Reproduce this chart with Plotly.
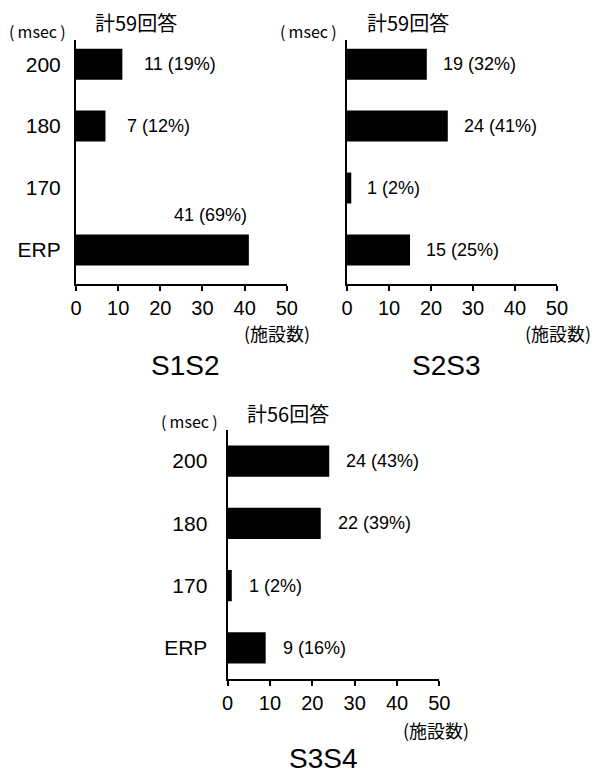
import plotly.graph_objects as go

# Response counts per stimulus interval, one list per coupling pair
categories = ["200", "180", "170", "ERP"]
panel_names = ["S1S2", "S2S3", "S3S4"]
counts_s1s2 = [11, 7, 0, 41]
counts_s2s3 = [19, 24, 1, 15]
counts_s3s4 = [24, 22, 1, 9]
x_ticks = [0, 10, 20, 30, 40, 50]

LATIN = "Liberation Sans, Arial, sans-serif"
CJK = "Noto Sans CJK JP, sans-serif"
W, H = 600, 772


def px_x(v):
    return v / W


def px_y(v):
    return 1 - v / H


# panel geometry (pixels): left, right, top, bottom of plot area
panels = [
    dict(name=panel_names[0], counts=counts_s1s2, box=(72, 289, 40, 284),
         yrange=[3.55, -0.39], show_cats=True, standoff=9, gap=20,
         title_y=355, unit_xy=(243, 333)),
    dict(name=panel_names[1], counts=counts_s2s3, box=(351, 567, 40, 284),
         yrange=[3.55, -0.39], show_cats=False, standoff=9, gap=14,
         title_y=355, unit_xy=(532, 333)),
    dict(name=panel_names[2], counts=counts_s3s4, box=(228, 446, 430, 679),
         yrange=[3.5, -0.5], show_cats=True, standoff=14, gap=15,
         title_y=748, unit_xy=(407, 730)),
]
caption_x = [185, 453, 327]

fig = go.Figure()
annotations = []
layout_axes = {}

for i, p in enumerate(panels, start=1):
    sfx = "" if i == 1 else str(i)
    xa, ya = "x" + sfx, "y" + sfx
    left, right, top, bottom = p["box"]
    counts = p["counts"]
    total = sum(counts)

    fig.add_trace(go.Bar(
        x=counts, y=categories, orientation="h", width=0.5,
        marker=dict(color="black", line=dict(width=0)),
        xaxis=xa, yaxis=ya, showlegend=False, hoverinfo="x+y",
    ))

    layout_axes["xaxis" + sfx] = dict(
        domain=[px_x(left), px_x(right)], anchor=ya, range=[0, 50],
        tickvals=x_ticks, ticktext=[str(t) for t in x_ticks],
        showline=True, linewidth=2, linecolor="black",
        ticks="outside", ticklen=5, tickwidth=2, tickcolor="black",
        showgrid=False, zeroline=False,
        tickfont=dict(family=LATIN, size=20, color="black"),
    )
    layout_axes["yaxis" + sfx] = dict(
        domain=[px_y(bottom), px_y(top)], anchor=xa, type="category",
        categoryorder="array", categoryarray=categories, range=p["yrange"],
        showline=True, linewidth=2, linecolor="black",
        ticks="outside" if p["show_cats"] else "", ticklen=p["standoff"],
        tickcolor="rgba(0,0,0,0)", showticklabels=p["show_cats"],
        showgrid=False, zeroline=False,
        tickfont=dict(family=LATIN, size=21, color="black"),
    )

    # value labels: count and share of the panel total
    for j, c in enumerate(counts):
        if c <= 0:
            continue
        label = f"{c} ({round(100 * c / total)}%)"
        if c > 35:
            annotations.append(dict(
                x=c, y=j, xref=xa, yref=ya, text=label, showarrow=False,
                xanchor="right", yanchor="middle", yshift=35,
                font=dict(family=LATIN, size=18, color="black")))
        else:
            annotations.append(dict(
                x=c, y=j, xref=xa, yref=ya, text=label, showarrow=False,
                xanchor="left", yanchor="middle", xshift=p["gap"],
                font=dict(family=LATIN, size=18, color="black")))

    # response total above the plot
    annotations.append(dict(
        x=px_x(left + 18), y=px_y(top - 17), xref="paper", yref="paper",
        text=f"計{total}回答", showarrow=False, xanchor="left",
        yanchor="middle", font=dict(family=CJK, size=20, color="black")))
    # unit of the category axis
    annotations.append(dict(
        x=px_x(left - 8), y=px_y(top - 9), xref="paper", yref="paper",
        text="(\u2009msec\u2009)", showarrow=False, xanchor="right",
        yanchor="middle", font=dict(family=CJK, size=16, color="black")))
    # unit of the count axis
    ux, uy = p["unit_xy"]
    annotations.append(dict(
        x=px_x(ux), y=px_y(uy), xref="paper", yref="paper",
        text="(施設数)", showarrow=False, xanchor="left",
        yanchor="middle", font=dict(family=CJK, size=18, color="black")))
    # panel caption
    annotations.append(dict(
        x=px_x(caption_x[i - 1]), y=px_y(p["title_y"] + 24), xref="paper",
        yref="paper", text=p["name"], showarrow=False, xanchor="center",
        yanchor="bottom", height=24, valign="middle",
        font=dict(family=LATIN, size=28, color="black")))

fig.update_layout(
    width=W, height=H, margin=dict(l=0, r=0, t=0, b=0),
    paper_bgcolor="white", plot_bgcolor="white",
    annotations=annotations, bargap=0.5, **layout_axes,
)

fig.write_html("out.html")
